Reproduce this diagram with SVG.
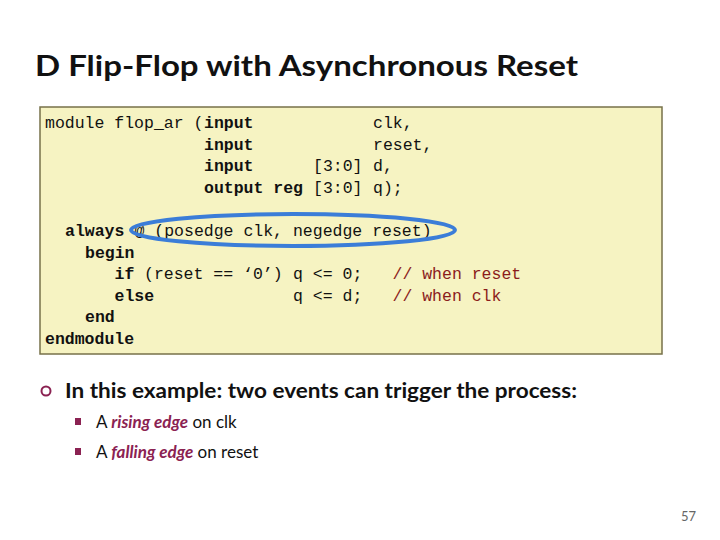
<svg xmlns="http://www.w3.org/2000/svg" width="720" height="540" viewBox="0 0 720 540">
<style>
.c{font-family:"Liberation Mono","DejaVu Sans Mono",monospace;font-size:16.5px;fill:#111}
.b{font-weight:bold}
.cm{fill:#8B1C1C}
.s{font-family:Lato,"Open Sans",sans-serif;fill:#111}
.em{fill:#8B2252;font-weight:bold;font-style:italic}
</style>
<rect width="720" height="540" fill="#fff"/>
<text class="s" x="35" y="76" font-size="28" font-weight="bold" textLength="543" lengthAdjust="spacingAndGlyphs">D Flip-Flop with Asynchronous Reset</text>
<rect x="40" y="107" width="622" height="247" fill="#F6F3C2" stroke="#77714A" stroke-width="1.5"/>
<g class="c">
<text y="128"><tspan x="45">module flop_ar (</tspan><tspan x="204" class="b">input</tspan><tspan x="373">clk,</tspan></text>
<text y="149.5"><tspan x="204" class="b">input</tspan><tspan x="373">reset,</tspan></text>
<text y="171"><tspan x="204" class="b">input</tspan><tspan x="313">[3:0]</tspan><tspan x="373">d,</tspan></text>
<text y="192.5"><tspan x="204" class="b">output reg</tspan><tspan x="313">[3:0]</tspan><tspan x="373">q);</tspan></text>
<text y="236"><tspan x="65" class="b">always</tspan><tspan x="134.5">@ (posedge clk, negedge reset)</tspan></text>
<text y="257.5"><tspan x="85" class="b">begin</tspan></text>
<text y="279"><tspan x="114.5" class="b">if</tspan><tspan x="144">(reset == ‘0’)</tspan><tspan x="293">q &lt;= 0;</tspan><tspan x="392.5" class="cm">// when reset</tspan></text>
<text y="300.5"><tspan x="114.5" class="b">else</tspan><tspan x="293">q &lt;= d;</tspan><tspan x="392.5" class="cm">// when clk</tspan></text>
<text y="322"><tspan x="85" class="b">end</tspan></text>
<text y="343.5"><tspan x="45" class="b">endmodule</tspan></text>
</g>
<ellipse cx="293" cy="230" rx="162" ry="16" fill="none" stroke="#3B7DD8" stroke-width="4"/>
<circle cx="46" cy="391" r="4.5" fill="none" stroke="#8B2252" stroke-width="2"/>
<text class="s" x="65" y="398" font-size="20" font-weight="bold" textLength="512" lengthAdjust="spacingAndGlyphs">In this example: two events can trigger the process:</text>
<rect x="75" y="418" width="6" height="7" fill="#8B2252"/>
<text class="s" x="96" y="428" font-size="17">A <tspan class="em">rising edge</tspan> on clk</text>
<rect x="75" y="448" width="6" height="7" fill="#8B2252"/>
<text class="s" x="96" y="458" font-size="17">A <tspan class="em">falling edge</tspan> on reset</text>
<text class="s" x="696" y="521" font-size="13" text-anchor="end" style="fill:#666">57</text>
</svg>
